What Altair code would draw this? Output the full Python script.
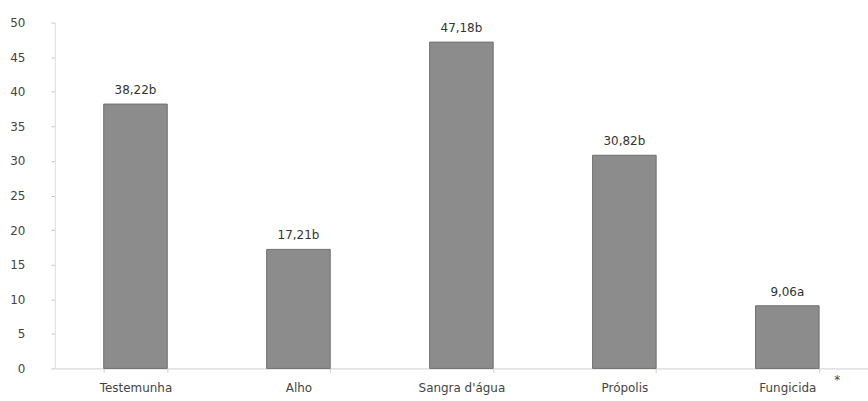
import altair as alt
import pandas as pd

categories = ["Testemunha", "Alho", "Sangra d'água", "Própolis", "Fungicida"]
values = [38.22, 17.21, 47.18, 30.82, 9.06]
labels = ["38,22b", "17,21b", "47,18b", "30,82b", "9,06a"]
y_ticks = [0, 5, 10, 15, 20, 25, 30, 35, 40, 45, 50]

df = pd.DataFrame({"cat": categories, "val": values, "lab": labels})

font = "DejaVu Sans"

x_enc = alt.X("cat:N", sort=categories, title=None,
              scale=alt.Scale(paddingInner=0.61, paddingOuter=0.3),
              axis=alt.Axis(labelAngle=0, labelFont=font, labelFontSize=12, labelColor="#444",
                            labelPadding=10, domainColor="#cfcfcf", tickColor="#cfcfcf",
                            ticks=True, tickSize=4, tickBand="extent"))
y_enc = alt.Y("val:Q", title=None,
              scale=alt.Scale(domain=[0, 50], nice=False),
              axis=alt.Axis(values=y_ticks, tickCount=11, labelFont=font, labelFontSize=12,
                            labelColor="#444", labelPadding=26, labelOverlap=False,
                            domainColor="#dcdcdc", tickColor="#c8c8c8", tickSize=4, grid=False))

base = alt.Chart(df)
bars = base.mark_bar(color="#8c8c8c", stroke="#6f6f6f", strokeWidth=1).encode(x=x_enc, y=y_enc)
text = base.mark_text(baseline="bottom", dy=-7, font=font, fontSize=12, color="#333").encode(
    x=x_enc, y=y_enc, text="lab:N")

star = alt.Chart(pd.DataFrame({"cat": ["Fungicida"], "t": ["*"]})).mark_text(
    font=font, fontSize=12, color="#444", dx=50, baseline="middle").encode(
    x=x_enc, y=alt.value(359), text="t:N")

chart = alt.layer(bars, text, star).properties(
    width=816, height=347,
    padding={"left": 55, "top": 22, "right": 0, "bottom": 32},
    autosize=alt.AutoSizeParams(type="none"),
    background="white",
).configure_view(stroke=None)

chart.save("out.html", embed_options={"renderer": "svg", "actions": False})
